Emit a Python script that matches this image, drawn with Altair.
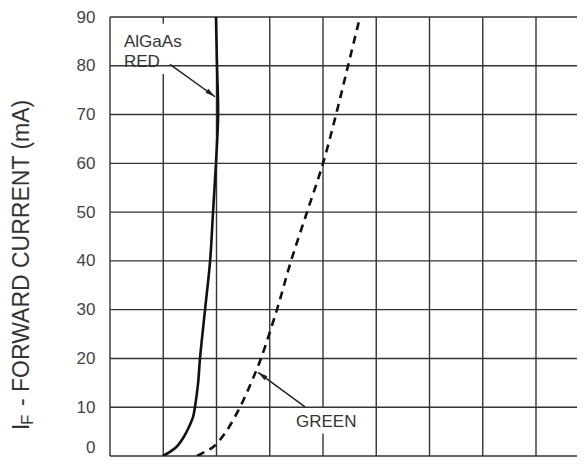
import altair as alt
import pandas as pd

# ---- data ----
red_ma = [0, 1, 2, 4, 6, 8, 10, 15, 20, 30, 40, 50, 60, 70, 80, 90]
red_vf = [1.599, 1.629, 1.652, 1.678, 1.697, 1.712, 1.719, 1.731, 1.738,
          1.757, 1.776, 1.787, 1.798, 1.806, 1.802, 1.798]

green_ma = [0, 1, 2, 5, 10, 15, 20, 30, 40, 50, 60, 70, 80, 90]
green_vf = [1.727, 1.761, 1.791, 1.836, 1.888, 1.930, 1.967, 2.027, 2.080,
            2.140, 2.200, 2.249, 2.294, 2.339]

vf_grid = [1.4, 1.6, 1.8, 2.0, 2.2, 2.4, 2.6, 2.8, 3.0]
ma_grid = [0, 10, 20, 30, 40, 50, 60, 70, 80, 90]
ma_ticks = [0, 10, 20, 30, 40, 50, 60, 70, 80, 90]

labels = ["AlGaAs", "RED", "GREEN"]
label_vf = [1.4526, 1.4526, 2.0986]
label_ma = [83.95, 79.7, 5.85]

# label backgrounds (hide vertical grid line behind the labels)
box_vf = [1.4376, 2.085]
box_vf2 = [1.6817, 2.33]
box_ma = [78.3, 4.6]
box_ma2 = [88.6, 10.0]

# arrows: start -> tip
red_arrow = {"vf": [1.6254], "ma": [80.3], "vf2": [1.7944], "ma2": [73.65]}
green_arrow = {"vf": [2.1324], "ma": [10.09], "vf2": [1.9559], "ma2": [17.15]}

title_parts = ["I", "F", "- FORWARD CURRENT (mA)"]

# ---- chart ----
FONT = "Liberation Sans"
xs = alt.Scale(domain=[1.4, 3.154], nice=False, zero=False)
ys = alt.Scale(domain=[0, 90], nice=False, zero=True)
yaxis = alt.Axis(values=ma_ticks, labelFontSize=17, labelFont=FONT, labelColor="#444",
                 labelBaseline=alt.condition("datum.value == 0", alt.value("bottom"), alt.value("middle")),
                 ticks=False, domain=False, grid=False, labelPadding=15, title=None)


def X(f="vf"):
    return alt.X(f"{f}:Q", scale=xs, axis=None)


def Y(f="ma"):
    return alt.Y(f"{f}:Q", scale=ys, axis=yaxis)


GRID = "#333"

vgrid = alt.Chart(pd.DataFrame({"vf": vf_grid})).mark_rule(
    color=GRID, strokeWidth=1.4).encode(x=X())

boxes = alt.Chart(pd.DataFrame({"vf": box_vf, "vf2": box_vf2, "ma": box_ma, "ma2": box_ma2})).mark_rect(
    color="white").encode(x=X(), x2="vf2:Q", y=Y(), y2="ma2:Q")

hgrid = alt.Chart(pd.DataFrame({"ma": ma_grid})).mark_rule(
    color=GRID, strokeWidth=1.4).encode(y=Y())

red = alt.Chart(pd.DataFrame({"vf": red_vf, "ma": red_ma})).mark_line(
    color="#111", strokeWidth=2.6, interpolate="catmull-rom", clip=True).encode(
    x=X(), y=Y(), order="ma:Q")

green = alt.Chart(pd.DataFrame({"vf": green_vf, "ma": green_ma})).mark_line(
    color="#111", strokeWidth=2.6, strokeDash=[8, 6], interpolate="catmull-rom", clip=True).encode(
    x=X(), y=Y(), order="ma:Q")

ARROW = "M0,0L0.5,2L-0.5,2Z"


def arrow(d, ang):
    df = pd.DataFrame(d)
    line = alt.Chart(df).mark_rule(color="#222", strokeWidth=1.5).encode(
        x=X(), y=Y(), x2="vf2:Q", y2="ma2:Q")
    head = alt.Chart(df).mark_point(shape=ARROW, filled=True, size=100, color="#222",
                                    opacity=1, angle=ang, strokeWidth=0).encode(
        x=X("vf2"), y=Y("ma2"))
    return line + head


red_arr = arrow(red_arrow, 126.3)
green_arr = arrow(green_arrow, 306.7)

texts = alt.Chart(pd.DataFrame({"vf": label_vf, "ma": label_ma, "t": labels})).mark_text(
    align="left", baseline="alphabetic", font=FONT, fontSize=17, color="#333").encode(
    x=X(), y=Y(), text="t:N")


def title_piece(txt, size, xpx, ypx):
    return alt.Chart(pd.DataFrame({"t": [txt]})).mark_text(
        align="left", baseline="alphabetic", angle=270, font=FONT, fontSize=size,
        color="#333").encode(x=alt.value(xpx), y=alt.value(ypx), text="t:N")


t1 = title_piece(title_parts[0], 23, -81, 413)
t2 = title_piece(title_parts[1], 17, -77.5, 408)
t3 = title_piece(title_parts[2], 23, -81, 389)

chart = alt.layer(vgrid, boxes, hgrid, red, green, red_arr, green_arr, texts, t1, t2, t3).properties(
    width=467, height=439,
    autosize=alt.AutoSizeParams(type="none"),
    padding={"left": 102, "top": 9, "right": 0, "bottom": 1},
    background="white",
).configure_view(stroke=None)

chart.save("out.html", embed_options={"renderer": "svg", "actions": False})
